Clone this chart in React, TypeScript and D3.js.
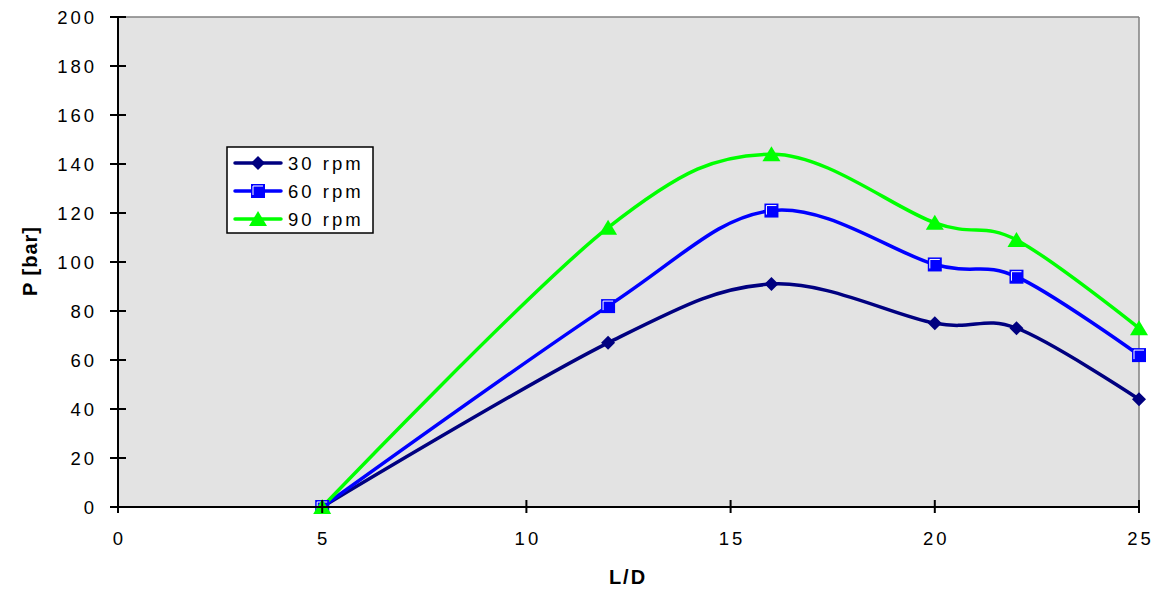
import React from "react";
import * as d3 from "d3";

const xTicks = [0, 5, 10, 15, 20, 25];
const yTicks = [0, 20, 40, 60, 80, 100, 120, 140, 160, 180, 200];
const ldValues = [5, 12, 16, 20, 22, 25];
const rpm30 = [0, 67, 91, 75, 73, 44];
const rpm60 = [0, 82, 121, 99, 94, 62];
const rpm90 = [0, 114, 144, 116, 109, 73];
const seriesNames = ["30 rpm", "60 rpm", "90 rpm"];
const seriesColors = ["#000080", "#0000FF", "#00FF00"];
const seriesMarkers = ["diamond", "square", "triangle"];

const W = 1165;
const H = 592;
const left = 118;
const right = 1139;
const top = 17;
const bottom = 507;

const font = "Arial, 'Liberation Sans', sans-serif";

function Marker({ kind, x, y, color }: { kind: string; x: number; y: number; color: string }) {
  if (kind === "diamond") {
    const s = 7;
    return <path d={`M${x},${y - s}L${x + s},${y}L${x},${y + s}L${x - s},${y}Z`} fill={color} />;
  }
  if (kind === "square") {
    const s = 7;
    return (
      <g>
        <rect x={x - s} y={y - s} width={2 * s} height={2 * s} fill={color} />
        <path d={`M${x - s + 2},${y + s - 3}L${x - s + 2},${y - s + 2}L${x + s - 2},${y - s + 2}`} fill="none" stroke="#ffffff" strokeWidth={1} />
      </g>
    );
  }
  const s = 8;
  return <path d={`M${x},${y - s}L${x + s + 1},${y + s - 1}L${x - s - 1},${y + s - 1}Z`} fill={color} />;
}

export default function App() {
  const x = d3.scaleLinear().domain([0, 25]).range([left, right]);
  const y = d3.scaleLinear().domain([0, 200]).range([bottom, top]);
  const series = [rpm30, rpm60, rpm90];
  const line = d3
    .line<[number, number]>()
    .x((d) => x(d[0]))
    .y((d) => y(d[1]))
    .curve(d3.curveCatmullRom.alpha(0));

  const legX = 227;
  const legY = 147;
  const legW = 146;
  const legH = 86;
  const rowY = [163, 191, 219];

  return (
    <svg width={W} height={H} style={{ position: "absolute", left: 0, top: 0, fontFamily: font }}>
      <rect x={0} y={0} width={W} height={H} fill="#ffffff" />
      <rect x={left} y={top} width={right - left} height={bottom - top} fill="#E3E3E3" />
      <line x1={left} y1={top} x2={right} y2={top} stroke="#808080" strokeWidth={1.5} />
      <line x1={right} y1={top} x2={right} y2={bottom} stroke="#808080" strokeWidth={1.5} />

      {series.map((vals, i) => {
        const pts: [number, number][] = ldValues.map((v, j) => [v, vals[j]]);
        return (
          <path key={i} d={line(pts) || ""} fill="none" stroke={seriesColors[i]} strokeWidth={3.5} strokeLinejoin="round" />
        );
      })}
      {series.map((vals, i) => (
        <g key={"m" + i}>
          {ldValues.map((v, j) => (
            <Marker key={j} kind={seriesMarkers[i]} x={x(v)} y={y(vals[j])} color={seriesColors[i]} />
          ))}
        </g>
      ))}

      <line x1={left} y1={top} x2={left} y2={bottom + 1} stroke="#000" strokeWidth={2} />
      <line x1={left - 1} y1={bottom} x2={right + 1} y2={bottom} stroke="#000" strokeWidth={2} />
      {yTicks.map((t) => (
        <g key={"y" + t}>
          <line x1={left - 8} x2={left + 8} y1={y(t)} y2={y(t)} stroke="#000" strokeWidth={2} />
          <text x={97} y={y(t) + 6.7} textAnchor="end" fontSize={18.5} letterSpacing={3} fill="#000">
            {t}
          </text>
        </g>
      ))}
      {xTicks.map((t) => (
        <g key={"x" + t}>
          <line x1={x(t)} x2={x(t)} y1={bottom - 7} y2={bottom + 6} stroke="#000" strokeWidth={2} />
          <text x={x(t) + 1.5} y={545} textAnchor="middle" fontSize={18.5} letterSpacing={3} fill="#000">
            {t}
          </text>
        </g>
      ))}

      <text x={628} y={584} textAnchor="middle" fontSize={20} fontWeight="bold" letterSpacing={2}>
        L/D
      </text>
      <text
        transform={`translate(37,261) rotate(-90)`}
        textAnchor="middle"
        fontSize={20}
        fontWeight="bold"
        letterSpacing={1}
      >
        P [bar]
      </text>

      <rect x={legX} y={legY} width={legW} height={legH} fill="#ffffff" stroke="#000" strokeWidth={1.5} />
      {seriesNames.map((n, i) => (
        <g key={"l" + i}>
          <line x1={235} x2={281} y1={rowY[i]} y2={rowY[i]} stroke={seriesColors[i]} strokeWidth={3.5} strokeLinecap="round" />
          <Marker kind={seriesMarkers[i]} x={258} y={rowY[i]} color={seriesColors[i]} />
          <text x={288} y={rowY[i] + 6.7} fontSize={18.5} letterSpacing={3} fill="#000">
            {n}
          </text>
        </g>
      ))}
    </svg>
  );
}
